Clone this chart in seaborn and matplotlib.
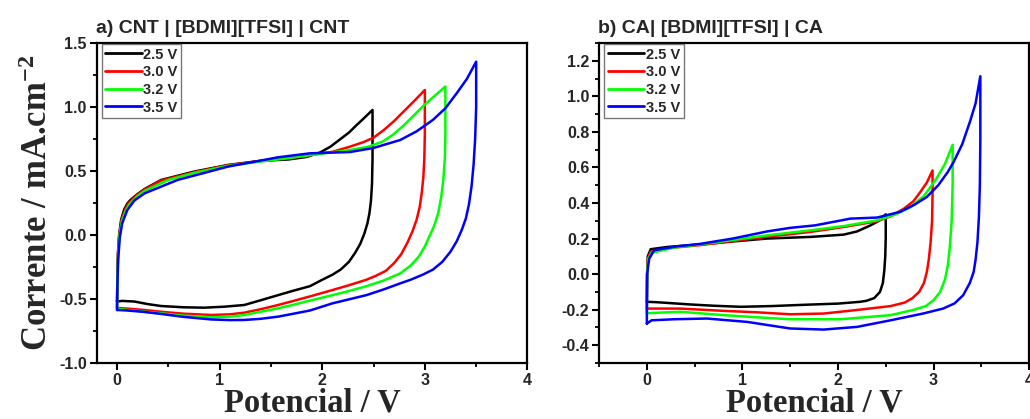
import matplotlib
matplotlib.use("Agg")
import matplotlib.pyplot as plt
from matplotlib.ticker import MultipleLocator, FormatStrFormatter
import seaborn as sns
import pandas as pd

# ---------------- data ----------------
scan_labels = ["2.5 V", "3.0 V", "3.2 V", "3.5 V"]
scan_colors = ["#000000", "#FF0000", "#00FF00", "#0000FF"]

# panel a) CNT | [BDMI][TFSI] | CNT
cnt_v_25 = [0, 0.003, 0.008, 0.02, 0.04, 0.07, 0.10, 0.13, 0.20, 0.27, 0.43, 0.75, 1.08, 1.41, 1.67, 1.85,
            1.98, 2.08, 2.17, 2.26, 2.33, 2.41, 2.49,
            2.49, 2.485, 2.475, 2.46, 2.44, 2.41, 2.37, 2.32, 2.26, 2.18, 2.10, 2.00, 1.88,
            1.72, 1.57, 1.40, 1.24, 1.05, 0.85, 0.65, 0.43, 0.30, 0.17, 0.05, 0]
cnt_i_25 = [-0.52, -0.35, -0.15, 0.0, 0.12, 0.20, 0.245, 0.273, 0.32, 0.36, 0.43, 0.495, 0.547, 0.58, 0.59, 0.61,
            0.645, 0.69, 0.745, 0.80, 0.855, 0.915, 0.977,
            0.60, 0.40, 0.27, 0.17, 0.09, 0.01, -0.07, -0.14, -0.21, -0.27, -0.31, -0.35, -0.40,
            -0.435, -0.47, -0.51, -0.547, -0.56, -0.568, -0.565, -0.555, -0.54, -0.52, -0.515, -0.52]

cnt_v_30 = [0, 0.003, 0.009, 0.022, 0.045, 0.08, 0.11, 0.14, 0.20, 0.27, 0.43, 0.75, 1.08, 1.41, 1.67, 1.85,
            2.10, 2.27, 2.40, 2.50, 2.60, 2.70, 2.80, 2.90, 3.0,
            3.0, 2.995, 2.985, 2.97, 2.95, 2.92, 2.88, 2.83, 2.77, 2.70, 2.62, 2.52, 2.43, 2.25, 2.10,
            1.88, 1.72, 1.57, 1.40, 1.24, 1.10, 0.92, 0.65, 0.43, 0.25, 0.10, 0]
cnt_i_30 = [-0.57, -0.38, -0.16, 0.0, 0.12, 0.20, 0.245, 0.27, 0.315, 0.355, 0.425, 0.49, 0.545, 0.58, 0.60, 0.62,
            0.65, 0.69, 0.725, 0.76, 0.82, 0.89, 0.97, 1.05, 1.133,
            0.80, 0.60, 0.45, 0.33, 0.22, 0.12, 0.03, -0.06, -0.15, -0.22, -0.28, -0.32, -0.35, -0.395, -0.43,
            -0.48, -0.515, -0.547, -0.58, -0.607, -0.62, -0.625, -0.615, -0.60, -0.585, -0.575, -0.57]

cnt_v_32 = [0, 0.003, 0.01, 0.024, 0.048, 0.09, 0.12, 0.15, 0.20, 0.27, 0.50, 0.75, 1.08, 1.41, 1.67, 1.85,
            2.27, 2.45, 2.59, 2.70, 2.80, 2.90, 3.00, 3.10, 3.20,
            3.20, 3.195, 3.18, 3.16, 3.13, 3.09, 3.05, 3.00, 2.94, 2.86, 2.76, 2.60, 2.43, 2.25, 2.10,
            1.88, 1.72, 1.57, 1.40, 1.24, 1.10, 0.92, 0.65, 0.43, 0.25, 0.10, 0]
cnt_i_32 = [-0.577, -0.38, -0.16, 0.0, 0.11, 0.198, 0.24, 0.265, 0.305, 0.345, 0.43, 0.485, 0.54, 0.575, 0.60, 0.62,
            0.664, 0.69, 0.73, 0.79, 0.86, 0.94, 1.02, 1.09, 1.16,
            0.80, 0.60, 0.43, 0.30, 0.17, 0.07, 0.0, -0.09, -0.17, -0.24, -0.30, -0.355, -0.40, -0.44, -0.47,
            -0.513, -0.545, -0.573, -0.60, -0.625, -0.638, -0.643, -0.63, -0.612, -0.598, -0.585, -0.577]

cnt_v_35 = [0, 0.003, 0.012, 0.027, 0.05, 0.10, 0.17, 0.27, 0.59, 1.08, 1.57, 1.88,
            2.27, 2.50, 2.76, 2.92, 3.08, 3.20, 3.31, 3.41, 3.50,
            3.50, 3.49, 3.475, 3.455, 3.43, 3.40, 3.36, 3.31, 3.25, 3.17, 3.08, 2.98, 2.86, 2.76, 2.60, 2.43,
            2.10, 1.88, 1.72, 1.57, 1.40, 1.24, 1.10, 0.92, 0.65, 0.43, 0.25, 0.10, 0]
cnt_i_35 = [-0.586, -0.40, -0.18, -0.02, 0.09, 0.195, 0.27, 0.326, 0.43, 0.534, 0.607, 0.638,
            0.648, 0.68, 0.742, 0.81, 0.90, 0.99, 1.107, 1.22, 1.354,
            1.0, 0.75, 0.55, 0.38, 0.24, 0.13, 0.04, -0.05, -0.13, -0.21, -0.27, -0.31, -0.35, -0.378, -0.425, -0.47,
            -0.534, -0.59, -0.615, -0.638, -0.655, -0.664, -0.665, -0.66, -0.64, -0.617, -0.60, -0.59, -0.586]

# panel b) CA | [BDMI][TFSI] | CA
ca_v_25 = [0, 0.003, 0.01, 0.04, 0.22, 0.56, 0.91, 1.26, 1.71, 2.06, 2.20, 2.34, 2.43, 2.50,
           2.50, 2.495, 2.485, 2.47, 2.44, 2.38, 2.30, 2.23, 2.0, 1.68, 1.30, 0.98, 0.70, 0.46, 0.10, 0]
ca_i_25 = [-0.156, 0.0, 0.10, 0.14, 0.153, 0.167, 0.184, 0.20, 0.209, 0.222, 0.24, 0.274, 0.30, 0.336,
           0.20, 0.10, 0.02, -0.05, -0.10, -0.135, -0.15, -0.156, -0.166, -0.172, -0.18, -0.184, -0.178, -0.171, -0.158, -0.156]

ca_v_30 = [0, 0.003, 0.012, 0.04, 0.20, 0.56, 1.26, 1.71, 2.06, 2.41, 2.55, 2.69, 2.79, 2.86, 2.93, 2.99,
           2.99, 2.985, 2.97, 2.95, 2.93, 2.90, 2.85, 2.78, 2.70, 2.55, 2.23, 1.85, 1.50, 1.15, 0.81, 0.35, 0]
ca_i_30 = [-0.194, 0.0, 0.09, 0.125, 0.145, 0.163, 0.21, 0.237, 0.265, 0.297, 0.325, 0.368, 0.41, 0.46, 0.515, 0.583,
           0.45, 0.30, 0.18, 0.08, 0.012, -0.05, -0.10, -0.135, -0.16, -0.18, -0.20, -0.222, -0.226, -0.215, -0.207, -0.194, -0.194]

ca_v_32 = [0, 0.003, 0.014, 0.05, 0.30, 0.56, 1.26, 1.71, 2.06, 2.41, 2.60, 2.76, 2.90, 3.03, 3.12, 3.20,
           3.20, 3.19, 3.17, 3.15, 3.12, 3.07, 3.0, 2.92, 2.80, 2.55, 2.03, 1.50, 1.15, 0.81, 0.35, 0]
ca_i_32 = [-0.22, 0.0, 0.085, 0.12, 0.15, 0.167, 0.218, 0.246, 0.27, 0.302, 0.335, 0.377, 0.44, 0.536, 0.62, 0.727,
           0.50, 0.30, 0.15, 0.05, -0.03, -0.10, -0.147, -0.18, -0.20, -0.231, -0.254, -0.254, -0.243, -0.231, -0.212, -0.22]

ca_v_35 = [0, 0.003, 0.025, 0.076, 0.30, 0.56, 0.90, 1.26, 1.50, 1.76, 2.13, 2.41, 2.65, 2.80, 2.93, 3.05, 3.15,
           3.21, 3.30, 3.38, 3.44, 3.49,
           3.49, 3.485, 3.475, 3.46, 3.44, 3.42, 3.38, 3.31, 3.22, 3.10, 2.89, 2.55, 2.20, 1.85, 1.50, 1.05, 0.63,
           0.285, 0.05, 0]
ca_i_35 = [-0.278, 0.0, 0.087, 0.134, 0.155, 0.17, 0.20, 0.24, 0.26, 0.274, 0.312, 0.318, 0.35, 0.39, 0.434, 0.50, 0.575,
           0.63, 0.73, 0.855, 0.96, 1.113,
           0.76, 0.50, 0.32, 0.18, 0.08, 0.012, -0.05, -0.119, -0.165, -0.194, -0.222, -0.26, -0.297, -0.312, -0.306, -0.269, -0.25,
           -0.254, -0.26, -0.278]

title_a = "a) CNT | [BDMI][TFSI] | CNT"
title_b = "b) CA| [BDMI][TFSI] | CA"
xlabel = "Potencial / V"
ylabel = "Corrente / mA.cm$^{\\mathbf{-2}}$"


def make_df(vs, cs):
    frames = []
    for lab, v, c in zip(scan_labels, vs, cs):
        frames.append(pd.DataFrame({"V": v, "I": c, "scan": lab}))
    return pd.concat(frames, ignore_index=True)


df_a = make_df([cnt_v_25, cnt_v_30, cnt_v_32, cnt_v_35], [cnt_i_25, cnt_i_30, cnt_i_32, cnt_i_35])
df_b = make_df([ca_v_25, ca_v_30, ca_v_32, ca_v_35], [ca_i_25, ca_i_30, ca_i_32, ca_i_35])

# ---------------- style ----------------
sns.set_style("ticks")
plt.rcParams["font.family"] = ["Liberation Sans", "DejaVu Sans"]
plt.rcParams["font.weight"] = "bold"
plt.rcParams["axes.unicode_minus"] = False
plt.rcParams["mathtext.fontset"] = "custom"
plt.rcParams["mathtext.rm"] = "Liberation Serif:bold"
plt.rcParams["mathtext.bf"] = "Liberation Serif:bold"
plt.rcParams["mathtext.it"] = "Liberation Serif:bold:italic"
plt.rcParams["lines.solid_joinstyle"] = "round"

palette = dict(zip(scan_labels, scan_colors))

fig = plt.figure(figsize=(10.30, 4.19), dpi=100)
ax_a = fig.add_axes([0.0937, 0.1337, 0.4184, 0.7637])
ax_b = fig.add_axes([0.5816, 0.1337, 0.4175, 0.7637])

for ax, df in ((ax_a, df_a), (ax_b, df_b)):
    sns.lineplot(data=df, x="V", y="I", hue="scan", palette=palette, sort=False,
                 estimator=None, linewidth=1.8, ax=ax)

# panel a axes
ax_a.set_xlim(-0.2, 4.0)
ax_a.set_ylim(-1.0, 1.5)
ax_a.yaxis.set_major_locator(MultipleLocator(0.5))
ax_a.yaxis.set_minor_locator(MultipleLocator(0.25))
ax_a.yaxis.set_major_formatter(FormatStrFormatter("%.1f"))

# panel b axes
ax_b.set_xlim(-0.5, 4.0)
ax_b.set_ylim(-0.5, 1.3)
ax_b.set_yticks([-0.4, -0.2, 0.0, 0.2, 0.4, 0.6, 0.8, 1.0, 1.2])
ax_b.yaxis.set_minor_locator(MultipleLocator(0.1))
ax_b.yaxis.set_major_formatter(FormatStrFormatter("%.1f"))

for ax, title in ((ax_a, title_a), (ax_b, title_b)):
    ax.xaxis.set_major_locator(MultipleLocator(1))
    ax.xaxis.set_minor_locator(MultipleLocator(0.5))
    ax.tick_params(axis="both", which="major", direction="out", length=5, width=1.5,
                   labelsize=11.5, color="black", pad=2)
    ax.tick_params(axis="both", which="minor", direction="out", length=3, width=1.3, color="black")
    for lab in ax.get_xticklabels() + ax.get_yticklabels():
        lab.set_fontweight("bold")
    for sp in ax.spines.values():
        sp.set_linewidth(1.6)
        sp.set_color("black")
    ax.set_title(title, loc="left", fontsize=14, fontweight="bold", pad=7, x=-0.002)
    ax.set_xlabel(xlabel, fontsize=23.5, fontweight="bold", family="Liberation Serif", labelpad=0)
    sns.move_legend(ax, "upper left", bbox_to_anchor=(0.012, 0.997), borderaxespad=0,
                    title=None, frameon=True, fancybox=False, fontsize=10.5,
                    handlelength=2.5, handletextpad=0.1, labelspacing=0.25, borderpad=0.25,
                    edgecolor="#555555")
    leg = ax.get_legend()
    leg.get_frame().set_linewidth(1.0)
    for t in leg.get_texts():
        t.set_fontweight("bold")
    for h in leg.legend_handles:
        h.set_linewidth(2.0)

ax_a.set_ylabel(ylabel, fontsize=25, fontweight="bold", family="Liberation Serif", labelpad=3)
ax_b.set_ylabel("")

fig.savefig("out.png", dpi=100)
